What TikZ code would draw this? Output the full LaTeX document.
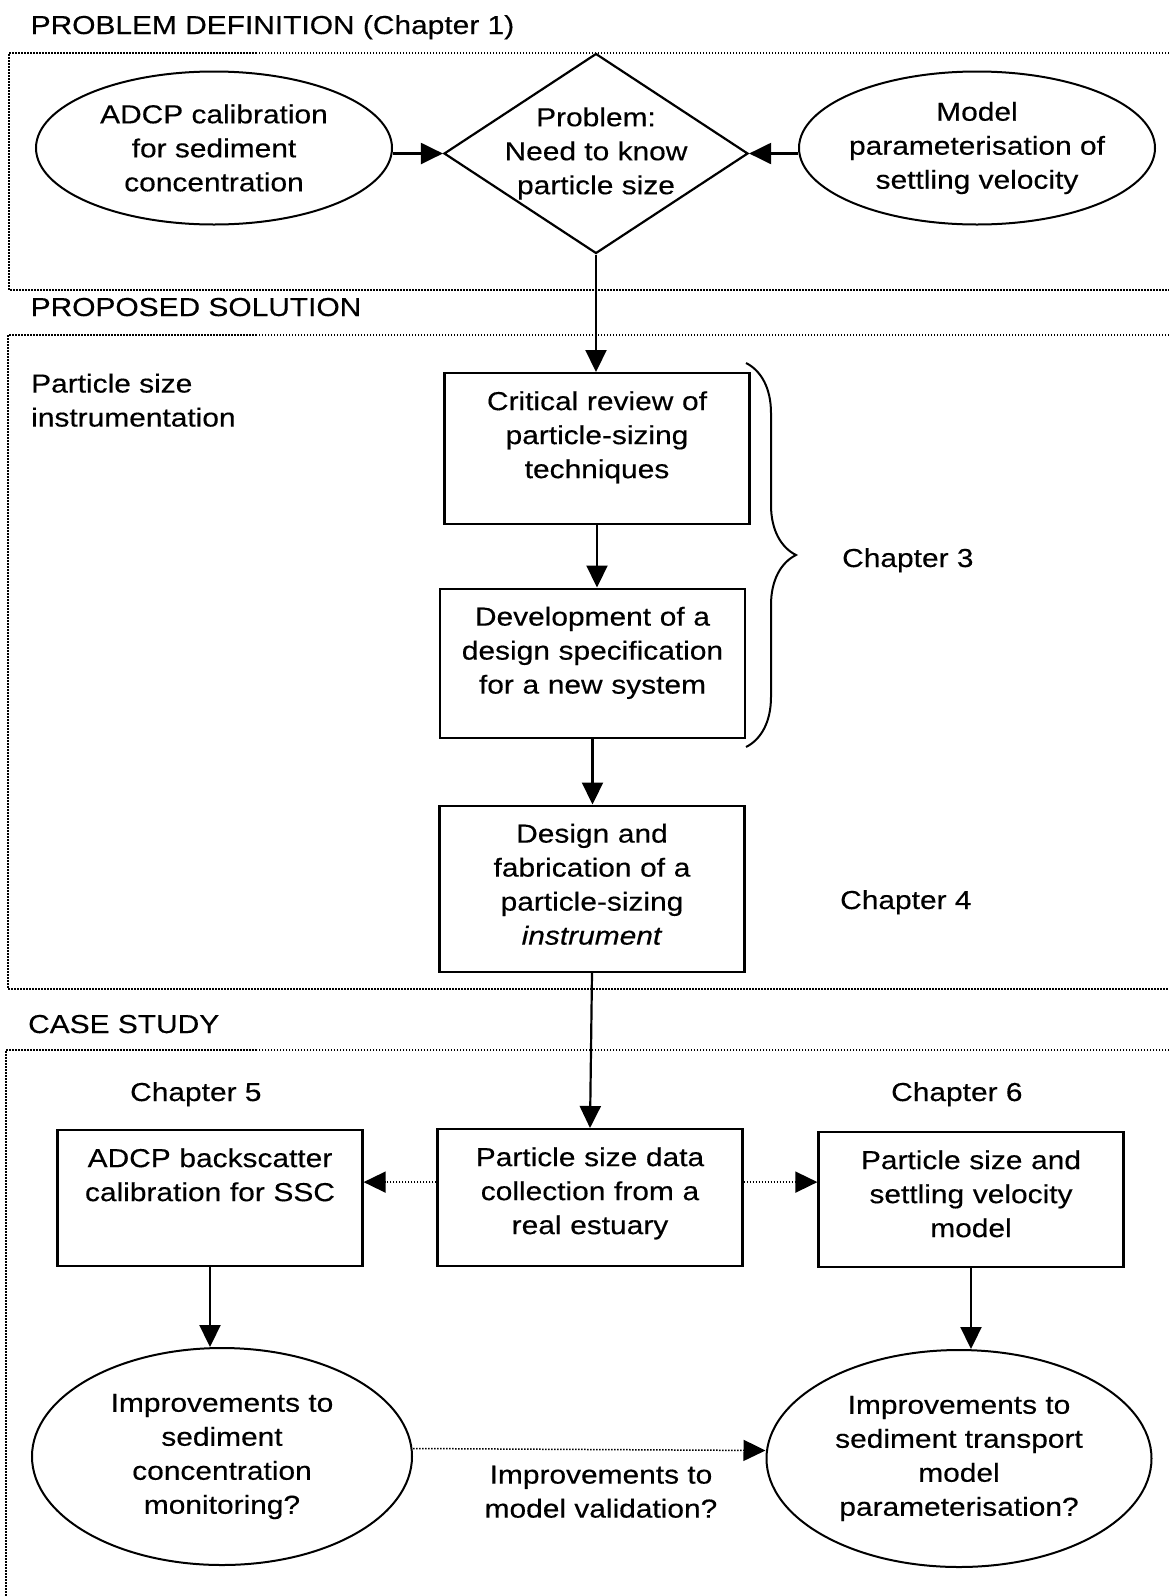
\documentclass[tikz,border=0pt]{standalone}
\usepackage{fontspec}
\setmainfont{Liberation Sans}[FakeStretch=1.15, FakeBold=0.35]
\usetikzlibrary{arrows.meta, shapes.geometric, decorations.pathreplacing}

\tikzset{
  procbox/.style={rectangle, draw, line width=2.2pt, text width=305pt, align=center, inner sep=0pt, text height=37pt, anchor=north},
  ovalbox/.style={ellipse, draw, line width=2pt, inner sep=-5pt, align=center},
  txt/.style={inner sep=0pt, anchor=base west},
  secframe/.style={line width=1.5pt, dash pattern=on 1.5pt off 1.5pt},
  arr/.style={line width=2.2pt, -{Triangle[length=22pt, width=21pt]}},
  darr/.style={line width=1.5pt, dash pattern=on 1.5pt off 1.5pt, -{Triangle[length=22pt, width=21pt]}}
}

\begin{document}
\begin{tikzpicture}[x=1pt, y=1pt, font=\fontsize{26}{34}\selectfont]
  \useasboundingbox (0,0) rectangle (1169,-1596);

  % section frames, open on the right
  \draw[secframe] (1169,-53) -- (9,-53) -- (9,-290) -- (1169,-290);
  \draw[secframe] (1169,-335) -- (8,-335) -- (8,-989) -- (1169,-989);
  \draw[secframe] (1169,-1050) -- (6,-1050) -- (6,-1596);

  % section titles
  \node[txt] (tdef) at (30.5,-34) {PROBLEM DEFINITION (Chapter 1)};
  \node[txt] (tsol) at (30.5,-316) {PROPOSED SOLUTION};
  \node[txt] (tcase) at (28,-1033) {CASE STUDY};
  \node[inner sep=0pt, anchor=north west, align=left] (instr) at (31,-373.5) {Particle size\\instrumentation};

  % problem definition
  \node[ovalbox, minimum width=356pt, minimum height=153pt] (calib) at (214,-148) {ADCP calibration\\for sediment\\concentration};
  \node[diamond, draw, line width=2.2pt, minimum width=304pt, minimum height=200pt, inner sep=-20pt, align=center] (prob) at (596,-153.5) {Problem:\\Need to know\\particle size};
  \node[ovalbox, minimum width=356pt, minimum height=153pt] (settle) at (977,-148) {Model\\parameterisation of\\settling velocity\rule[-2pt]{0pt}{0pt}};

  % proposed solution
  \node[procbox, text depth=114pt] (review) at (597,-372) {Critical review of\\particle-sizing\\techniques};
  \node[procbox, text depth=112.5pt] (spec) at (592.5,-587.5) {Development of a\\design specification\\for a new system};
  \node[procbox, text depth=129pt] (build) at (592,-804.5) {Design and\\fabrication of a\\particle-sizing\\\textit{instrument}};
  \draw[line width=2pt, decorate, decoration={brace, amplitude=50pt}] (746,-363) -- (746,-747);
  \node[txt] (ch3) at (842,-567) {Chapter 3};
  \node[txt] (ch4) at (840,-909) {Chapter 4};

  % case study
  \node[txt] (ch5) at (130,-1101) {Chapter 5};
  \node[txt] (ch6) at (891,-1101) {Chapter 6};
  \node[procbox, text depth=99pt] (adcp) at (210,-1129) {ADCP backscatter\\calibration for SSC};
  \node[procbox, text depth=100pt] (field) at (590,-1128) {Particle size data\\collection from a\\real estuary};
  \node[procbox, text depth=98pt] (model) at (971,-1131) {Particle size and\\settling velocity\\model};
  \node[ovalbox, minimum width=380pt, minimum height=217pt] (monit) at (222,-1456.5) {Improvements to\\sediment\\concentration\\monitoring?};
  \node[ovalbox, minimum width=385pt, minimum height=217pt] (transp) at (959,-1458.5) {Improvements to\\sediment transport\\model\\parameterisation?};
  \node[inner sep=0pt, anchor=north, align=center] (valid) at (601,-1465.5) {Improvements to\\model validation?};

  % connectors
  \draw[arr] (calib.east |- prob.west) -- (prob.west);
  \draw[arr] (settle.west |- prob.east) -- (prob.east);
  \draw[arr] (prob.south) -- (prob.south |- review.north);
  \draw[arr] (review.south) -- (review.south |- spec.north);
  \draw[arr] (spec.south) -- (spec.south |- build.north);
  \draw[arr] (build.south) -- (field.north);
  \draw[darr] ([yshift=15.5pt]field.west) -- ([yshift=15.5pt]field.west -| adcp.east);
  \draw[darr] ([yshift=15.5pt]field.east) -- ([yshift=15.5pt]field.east -| model.west);
  \draw[arr] (adcp.south) -- (adcp.south |- monit.north);
  \draw[arr] (model.south) -- (model.south |- transp.north);
  \draw[darr] ([yshift=8pt]monit.east) -- ([yshift=8pt]transp.west);
\end{tikzpicture}
\end{document}
